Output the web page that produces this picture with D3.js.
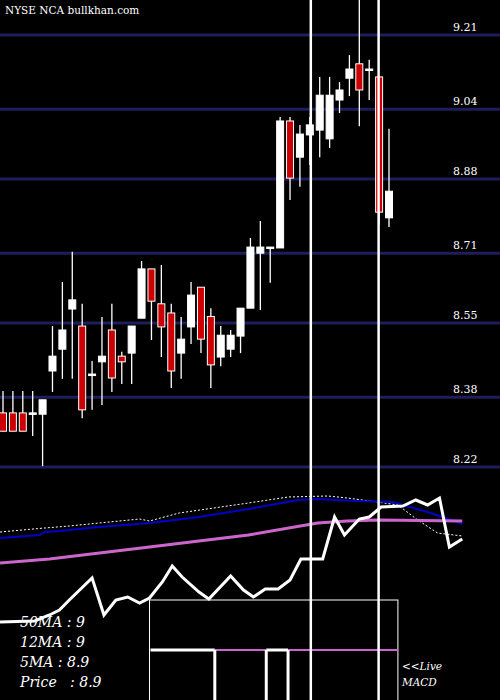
<!DOCTYPE html>
<html><head><meta charset="utf-8">
<script src="https://cdn.jsdelivr.net/npm/d3@7"></script>
<style>body{margin:0;background:#000}svg{display:block}</style>
</head><body>
<script>
// OHLC candles
const opens  = [8.344,8.344,8.344,8.344,8.341,8.440,8.490,8.582,8.543,8.433,8.461,8.534,8.474,8.481,8.561,8.674,8.594,8.573,8.481,8.541,8.632,8.565,8.472,8.490,8.520,8.584,8.710,8.724,8.722,9.013,8.930,8.981,8.992,8.972,9.061,9.111,9.144,9.132,9.114,8.791];
const highs  = [8.394,8.394,8.394,8.394,8.374,8.543,8.644,8.713,8.594,8.463,8.564,8.594,8.484,8.543,8.692,8.674,8.683,8.594,8.564,8.644,8.632,8.584,8.543,8.534,8.584,8.745,8.784,8.724,9.022,9.022,9.004,9.022,9.114,9.114,9.102,9.164,9.290,9.153,9.114,8.995];
const lows   = [8.302,8.302,8.302,8.291,8.222,8.392,8.422,8.422,8.332,8.351,8.362,8.392,8.410,8.410,8.561,8.511,8.472,8.401,8.422,8.502,8.481,8.401,8.451,8.472,8.481,8.584,8.580,8.642,8.722,8.832,8.862,8.912,8.930,8.951,9.031,9.070,9.001,9.061,8.775,8.770];
const closes = [8.302,8.302,8.302,8.344,8.374,8.474,8.534,8.603,8.351,8.433,8.474,8.424,8.461,8.543,8.674,8.600,8.541,8.440,8.513,8.614,8.513,8.454,8.522,8.522,8.584,8.724,8.724,8.724,9.013,8.882,8.983,9.004,9.072,9.072,9.084,9.132,9.084,9.132,8.804,8.852];
const priceTicks = [9.21,9.04,8.88,8.71,8.55,8.38,8.22];
// lower indicator panel, [day, level]
const priceLine = [[-0.3,58],[3.2,59],[4.7,65],[5.7,70],[6.7,80],[9.0,102],[10.2,65],[11.4,80],[12.6,83],[13.8,77],[14.8,82],[16.1,98],[17.1,114],[18.1,103],[19.8,88],[20.8,81],[23.0,104],[24.3,90],[25.3,83],[26.5,91],[27.8,91],[29.0,100],[30.1,121],[32.3,121],[33.5,163],[34.5,145],[36.0,161],[37.0,163],[38.2,173],[40.4,174],[41.7,180],[42.9,175],[44.1,182],[45.1,133],[46.4,141]];
const ma12 = [[-0.3,142],[3.7,145],[4.2,148],[5.7,149],[9.7,153],[14.8,157],[19.8,163],[24.8,171],[29.8,180],[31.8,181],[33.8,180],[35.8,179],[39.4,178],[42.9,168],[45.9,158],[46.4,156]];
const ma5 = [[-0.3,148],[4.2,152],[6.7,154],[9.7,157],[13.8,161],[14.8,159],[17.8,167],[24.8,177],[28.8,183],[32.8,184],[34.8,182],[37.8,178],[39.9,175],[41.9,160],[43.9,147],[46.4,144]];
const ma50 = [[-0.3,117],[4.7,121],[14.8,133],[24.8,145],[31.8,157],[34.8,159],[37.8,160],[46.4,159]];
// MACD state segments [fromDay, toDay, positive]
const macdSegs = [[14.9,21.4,true],[21.4,26.6,false],[26.6,28.8,true],[28.8,39.9,false]];
const markerDays = [31.1,37.95];
const legend = ["50MA : 9","12MA : 9","5MA : 8.9","Price   : 8.9"];

const W=500,H=700;
const svg=d3.select("body").append("svg").attr("width",W).attr("height",H).style("background","#000");
const x=d3.scaleLinear().domain([0,39]).range([3,389]);
const y=d3.scaleLinear().domain([8.22,9.21]).range([467,35]);
const yl=d3.scaleLinear().domain([0,200]).range([680,480]);

svg.selectAll("line.grid").data(priceTicks).join("line")
 .attr("x1",0).attr("x2",W).attr("y1",d=>y(d)).attr("y2",d=>y(d))
 .attr("stroke","#1e1e5a").attr("stroke-width",3);
const yAxis=d3.axisRight(y).tickValues(priceTicks).tickSize(0).tickFormat(d3.format(".2f"));
const ga=svg.append("g").attr("transform","translate(450,-8)").call(yAxis);
ga.select(".domain").remove();
ga.selectAll("text").attr("fill","#fff").style("font-family","DejaVu Serif, serif").style("font-size","11px");

svg.append("text").attr("x",5).attr("y",14).attr("fill","#fff").style("font-family","DejaVu Serif, serif").style("font-size","10.5px").text("NYSE NCA bullkhan.com");

const idx=d3.range(opens.length);
const g=svg.append("g");
g.selectAll("line.w").data(idx).join("line")
 .attr("x1",i=>x(i)).attr("x2",i=>x(i)).attr("y1",i=>y(highs[i])).attr("y2",i=>y(lows[i]))
 .attr("stroke","#fff").attr("stroke-width",1.3);
g.selectAll("rect").data(idx).join("rect")
 .attr("x",i=>x(i)-3.5).attr("width",7)
 .attr("y",i=>y(Math.max(opens[i],closes[i])))
 .attr("height",i=>Math.max(1.5,Math.abs(y(opens[i])-y(closes[i]))))
 .attr("fill",i=>closes[i]<opens[i]?"#cc0000":"#fff")
 .attr("stroke","#fff").attr("stroke-width",1);

const line=d3.line().x(d=>x(d[0])).y(d=>yl(d[1]));
svg.append("path").attr("d",line(ma5)).attr("fill","none").attr("stroke","#fff").attr("stroke-width",1).attr("stroke-dasharray","2,2");
svg.append("path").attr("d",line(ma12)).attr("fill","none").attr("stroke","#0000cc").attr("stroke-width",2);
svg.append("path").attr("d",line(ma50)).attr("fill","none").attr("stroke","#cc66cc").attr("stroke-width",3);
svg.append("path").attr("d",line(priceLine)).attr("fill","none").attr("stroke","#fff").attr("stroke-width",3);

// MACD box
svg.append("rect").attr("x",x(14.8)).attr("y",600).attr("width",x(39.9)-x(14.8)).attr("height",110).attr("fill","none").attr("stroke","#fff").attr("stroke-width",1);
macdSegs.forEach(s=>{
 svg.append("line").attr("x1",x(s[0])).attr("x2",x(s[1])).attr("y1",650).attr("y2",650)
  .attr("stroke",s[2]?"#fff":"#cc66cc").attr("stroke-width",s[2]?3:2);
});
macdSegs.slice(1).forEach(s=>{
 svg.append("line").attr("x1",x(s[0])).attr("x2",x(s[0])).attr("y1",650).attr("y2",700).attr("stroke","#fff").attr("stroke-width",3);
});

svg.selectAll("line.mk").data(markerDays).join("line")
 .attr("x1",d=>x(d)).attr("x2",d=>x(d)).attr("y1",0).attr("y2",H).attr("stroke","#fff").attr("stroke-width",2.5);

svg.selectAll("text.lg").data(legend).join("text").attr("x",20).attr("y",(d,i)=>627+i*20)
 .attr("fill","#fff").style("font-family","DejaVu Serif, serif").style("font-style","italic").style("font-size","14px")
 .attr("xml:space","preserve").text(d=>d);
["<<Live","MACD"].forEach((t,i)=>svg.append("text").attr("x",402).attr("y",670+i*16).attr("fill","#fff")
 .style("font-family","DejaVu Serif, serif").style("font-style","italic").style("font-size","10.5px").text(t));
</script>
</body></html>
